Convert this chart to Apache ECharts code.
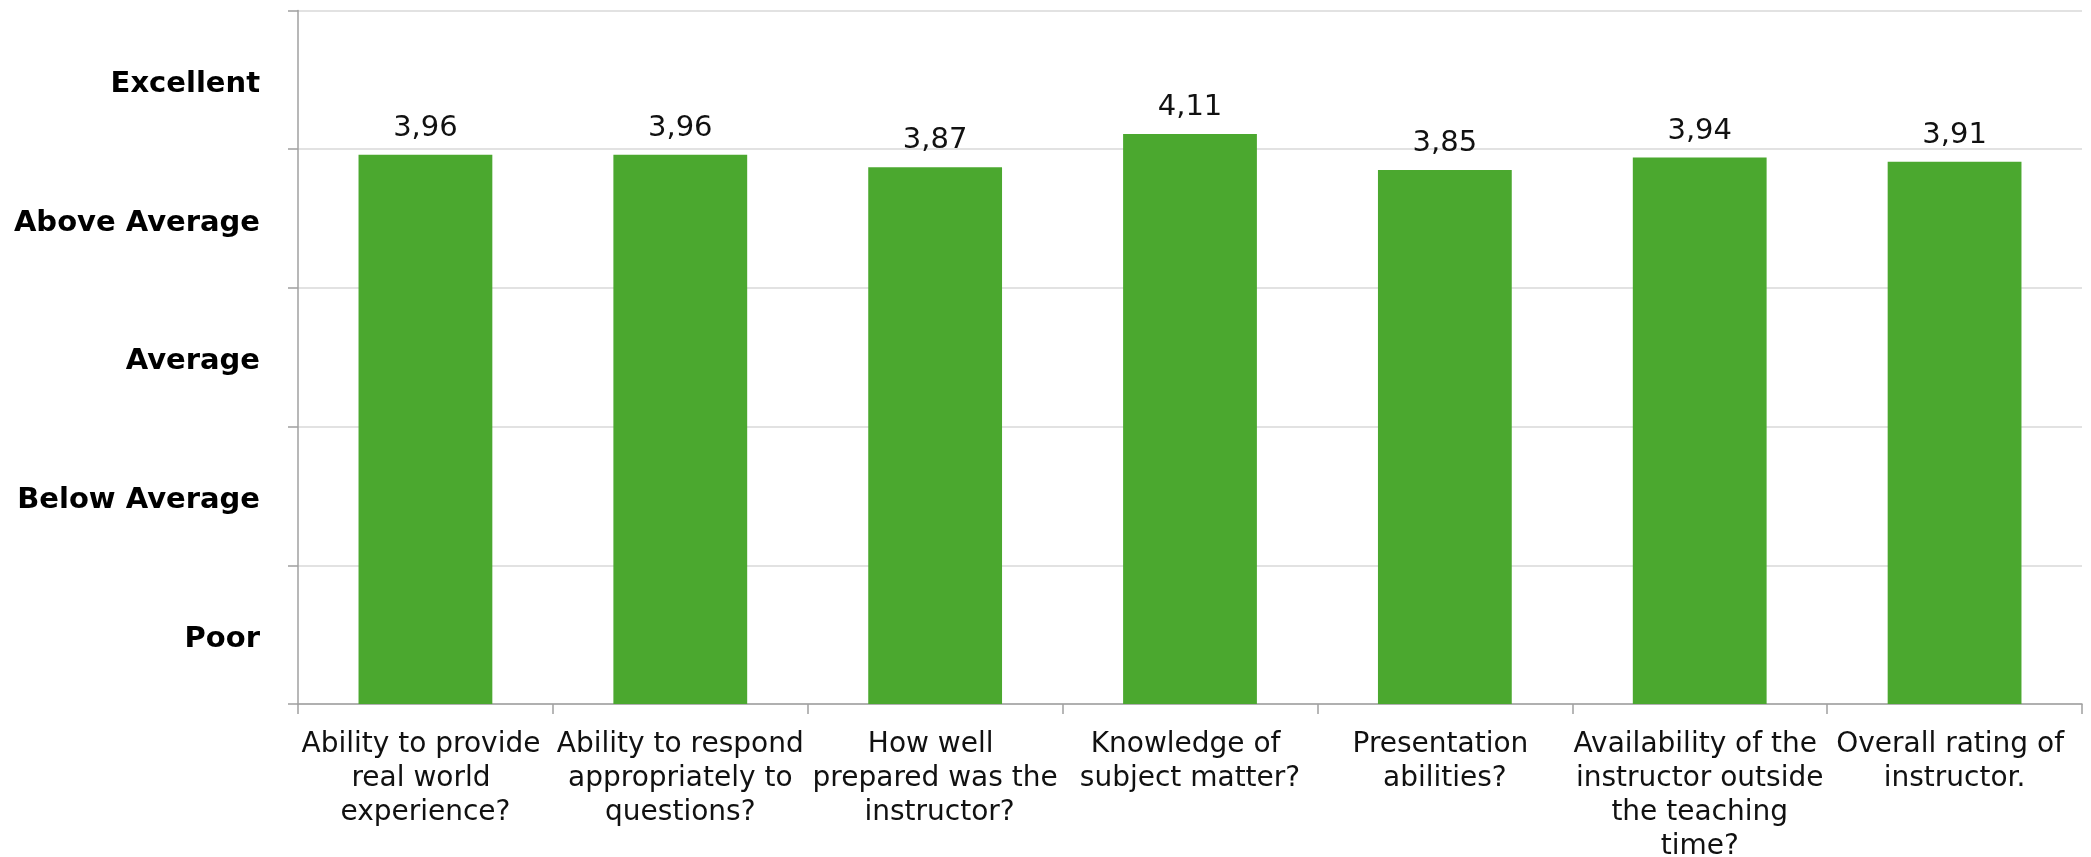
<!DOCTYPE html>
<html>
<head>
<meta charset="utf-8">
<script src="https://cdn.jsdelivr.net/npm/echarts@6/dist/echarts.min.js"></script>
<style>
html,body{margin:0;padding:0;background:#fff;}
#chart{width:2091px;height:857px;}
</style>
</head>
<body>
<div id="chart"></div>
<script>
const categories = [
  "Ability to provide real world experience?",
  "Ability to respond appropriately to questions?",
  "How well prepared was the instructor?",
  "Knowledge of subject matter?",
  "Presentation abilities?",
  "Availability of the instructor outside the teaching time?",
  "Overall rating of instructor."
];
const scores = [3.96, 3.96, 3.87, 4.11, 3.85, 3.94, 3.91];
const ratingLabels = ["Poor", "Below Average", "Average", "Above Average", "Excellent"];

const FONT = "DejaVu Sans";
const chart = echarts.init(document.getElementById('chart'), null, {renderer: 'canvas'});
chart.setOption({
  animation: false,
  backgroundColor: '#ffffff',
  grid: {left: 298, right: 9, top: 10.5, bottom: 153, containLabel: false, outerBoundsMode: 'none'},
  xAxis: {
    type: 'category',
    data: categories,
    boundaryGap: true,
    axisLine: {show: true, lineStyle: {color: '#a0a0a0', width: 1.5}},
    axisTick: {show: true, length: 10, lineStyle: {color: '#a0a0a0', width: 1.5}},
    axisLabel: {
      interval: 0,
      margin: 24,
      width: 255,
      overflow: 'break',
      fontFamily: FONT,
      fontSize: 28,
      lineHeight: 34,
      color: '#111',
      align: 'center'
    }
  },
  yAxis: [
    {
      type: 'value',
      min: 0, max: 5, interval: 1,
      axisLine: {show: true, lineStyle: {color: '#a0a0a0', width: 1.5}},
      axisTick: {show: true, length: 10, lineStyle: {color: '#a0a0a0', width: 1.5}},
      axisLabel: {show: false},
      splitLine: {show: true, lineStyle: {color: '#d9d9d9', width: 1.5}}
    },
    {
      type: 'category',
      data: ratingLabels,
      position: 'left',
      boundaryGap: true,
      axisLine: {show: false},
      axisTick: {show: false},
      splitLine: {show: false},
      axisLabel: {
        margin: 38,
        formatter: v => '{t|' + v + '}',
        rich: {
          t: {
            fontFamily: FONT,
            fontSize: 29,
            fontWeight: 'bold',
            color: '#000',
            padding: [9, 0, 0, 0]
          }
        }
      }
    }
  ],
  series: [{
    type: 'bar',
    yAxisIndex: 0,
    data: scores,
    barCategoryGap: '47.5%',
    itemStyle: {color: '#4ba82f'},
    label: {
      show: true,
      position: 'top',
      distance: 12,
      fontFamily: FONT,
      fontSize: 29,
      color: '#111',
      formatter: p => p.value.toFixed(2).replace('.', ',')
    }
  }]
});
</script>
</body>
</html>
